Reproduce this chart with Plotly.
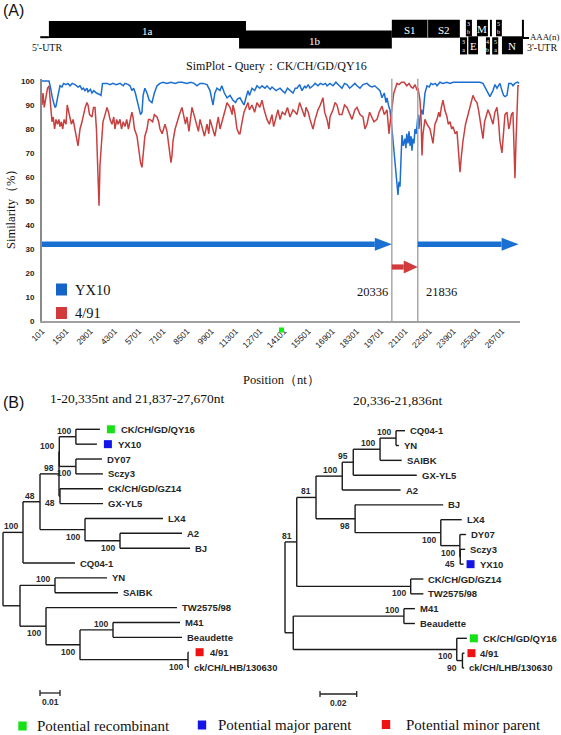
import plotly.graph_objects as go

W, H = 561, 735

# ---------------- DATA ----------------
# SimPlot (query CK/CH/GD/QY16), window positions (nt) and similarity (%)
yx10_pos = [101, 275, 506, 600, 700, 850, 911, 1000, 1142, 1258, 1350, 1489, 1600, 1721, 1850, 2010, 2184, 2300,
            2415, 2500, 2588, 2700, 2762, 2900, 2993, 3100, 3250, 3400, 3514, 3600, 3861, 4034, 4200, 4400, 4613,
            4800, 4902, 5100, 5191, 5300, 5400, 5500, 5600, 5700, 5800, 5885, 5950, 6050, 6174, 6300, 6463, 6600,
            6753, 6926, 7100, 7331, 7562, 7800, 8000, 8198, 8488, 8700, 8900, 9066, 9240, 9413, 9645, 9818, 9900,
            9992, 10100, 10223, 10397, 10500, 10650, 10802, 10975, 11148, 11300, 11400, 11553, 11700, 11784, 11900,
            12016, 12100, 12247, 12400, 12536, 12700, 12826, 13000, 13115, 13300, 13404, 13636, 13867, 14000, 14156,
            14300, 14445, 14619, 14750, 14850, 15000, 15140, 15300, 15371, 15500, 15602, 15776, 15900, 16065, 16200,
            16354, 16500, 16586, 16759, 16932, 17100, 17300, 17453, 17600, 17742, 17900, 18031, 18200, 18321, 18494,
            18668, 18899, 19050, 19188, 19350, 19477, 19651, 19767, 19900, 20000, 20056, 20171, 20229, 20345, 20450,
            20519, 20600, 20692, 20750, 20808, 20870, 20924, 21000, 21097, 21150, 21200, 21270, 21330, 21386, 21450,
            21500, 21560, 21620, 21676, 21750, 21849, 21900, 21965, 22050, 22139, 22254, 22370, 22500, 22600, 22717,
            22850, 22948, 23122, 23295, 23527, 23700, 23874, 24105, 24279, 24452, 24741, 25030, 25260, 25434, 25608,
            25750, 25897, 26012, 26186, 26300, 26417, 26591, 26706, 26800, 26880, 26996, 27100, 27250, 27343, 27458,
            27600, 27700]
yx10_sim = [100, 100, 100, 97, 93, 89, 89.5, 93, 98, 97.5, 99, 98.5, 99, 98, 99, 98.5, 97.5, 98,
            96.5, 97, 96, 97, 95.5, 96.5, 95, 96, 95, 94.5, 94, 99, 99, 98.5, 99, 98.5, 99,
            98, 99, 98.5, 98, 96, 97, 95, 92, 88, 86, 87, 94, 97, 95, 92, 91, 95,
            98, 99, 99.5, 99, 99.5, 99, 99.5, 99.5, 99, 99.5, 99, 98, 99, 99, 98.5, 96, 93,
            90, 95, 97, 96, 98, 95, 93, 94, 92, 91, 92.5, 93, 91, 90, 93,
            96, 94, 97, 96, 98, 97, 98, 97, 98, 96.5, 97.5, 96, 97, 96, 95,
            97, 96, 95, 97, 97, 98.5, 96, 98, 97, 98.5, 97, 98, 99, 98, 99,
            98.5, 99, 98, 99, 98, 99.5, 98, 97, 99, 98.5, 97, 98, 99, 98, 97,
            98.5, 99, 98, 97.5, 98, 97, 96, 93, 95, 91, 93, 89, 88, 80, 72,
            68, 60, 52.5, 58, 56, 68, 77.5, 73, 76, 72, 78, 74, 79, 73, 77,
            71, 76, 74, 80, 78, 86, 80, 85, 88, 86, 95, 98, 97.5, 99, 98.5,
            99, 98, 99.5, 99, 99.5, 99, 99.5, 99.5, 99.5, 99.5, 99.5, 99.5, 99.5, 99.5, 99,
            97, 95, 93.5, 96, 98.5, 97, 99, 96, 94, 93.5, 94, 99, 99, 98, 99,
            99.5, 99]

v491_pos = [101, 160, 230, 330, 420, 506, 560, 620, 679, 750, 830, 911, 1000, 1080, 1142, 1220, 1300, 1380, 1489,
            1560, 1650, 1721, 1800, 1900, 2010, 2100, 2184, 2250, 2300, 2415, 2500, 2600, 2700, 2762, 2850, 2993,
            3080, 3167, 3250, 3320, 3398, 3456, 3514, 3629, 3750, 3861, 3950, 4034, 4150, 4250, 4323, 4420, 4500,
            4613, 4700, 4800, 4902, 5000, 5100, 5191, 5300, 5364, 5450, 5596, 5700, 5800, 5885, 5950, 6050, 6174,
            6260, 6348, 6500, 6600, 6753, 6850, 6926, 7050, 7215, 7331, 7450, 7562, 7620, 7678, 7800, 7909, 8050,
            8198, 8300, 8400, 8488, 8600, 8777, 8900, 9066, 9150, 9240, 9413, 9500, 9645, 9750, 9818, 9992, 10100,
            10223, 10300, 10397, 10570, 10700, 10802, 10975, 11100, 11148, 11250, 11380, 11500, 11553, 11650, 11784,
            11900, 12016, 12100, 12247, 12400, 12536, 12700, 12826, 12950, 13115, 13250, 13404, 13500, 13636, 13750,
            13867, 14000, 14156, 14300, 14445, 14619, 14750, 14850, 15000, 15140, 15300, 15371, 15500, 15602, 15700,
            15776, 15900, 16065, 16200, 16354, 16450, 16586, 16700, 16759, 16932, 17050, 17164, 17300, 17453, 17600,
            17742, 17900, 18031, 18200, 18321, 18494, 18668, 18780, 18899, 19050, 19188, 19300, 19477, 19600, 19767,
            19900, 20056, 20171, 20229, 20345, 20450, 20519, 20634, 20750, 20900, 21050, 21200, 21330, 21450, 21560,
            21676, 21800, 21849, 21965, 22030, 22081, 22139, 22254, 22370, 22544, 22630, 22717, 22830, 22948, 23050,
            23122, 23200, 23295, 23400, 23527, 23600, 23700, 23800, 23874, 24000, 24105, 24200, 24279, 24350, 24452,
            24600, 24741, 24850, 25030, 25150, 25260, 25350, 25434, 25520, 25608, 25700, 25897, 26012, 26100, 26186,
            26300, 26417, 26500, 26591, 26706, 26800, 26880, 26996, 27100, 27169, 27250, 27343, 27400, 27458, 27520,
            27600, 27632, 27700]
v491_sim = [90, 95, 89, 93, 97, 98, 93, 88, 83, 85, 80, 84, 82, 84, 81, 83, 80, 84, 82,
            90, 87, 85, 82, 84, 79, 76, 73, 77, 80, 83, 86, 89, 91, 90, 86, 85,
            89, 89, 80, 60, 48, 65, 72, 83, 86, 89, 87, 84, 82, 85, 80, 84, 82,
            84, 80, 83, 81, 84, 80, 84, 87, 85, 80, 77, 70, 66, 64, 70, 77, 80,
            84, 84, 83, 86, 85, 83, 80, 78, 82, 79, 72, 66, 69, 75, 80, 83, 86,
            89, 85, 82, 85, 79, 89, 86, 82, 79, 84, 80, 77, 82, 78, 84, 80, 77,
            82, 85, 80, 84, 88, 91, 89, 86, 90, 87, 80, 78, 78, 82, 87,
            89, 91, 88, 90, 87, 91, 89, 92, 88, 84, 82, 86, 81, 85, 88,
            84, 87, 86, 89, 85, 88, 87, 86, 91, 88, 85, 89, 87, 84, 82,
            80, 84, 88, 90, 93, 87, 84, 80, 85, 88, 91, 90, 86, 86, 90,
            89, 86, 84, 88, 89, 86, 85, 80, 82, 87, 85, 83, 84, 87, 89.5,
            86, 88, 78, 82, 89, 95, 96.5, 99, 98.5, 99.5, 99.5, 98, 99, 97.5, 97,
            98.5, 96, 97, 92, 84, 69, 78, 84, 82, 80, 77, 74, 82, 84, 87,
            85, 89, 92, 88, 85, 82, 83, 80, 81, 78, 79, 70, 62, 68, 75,
            82, 86, 90, 94, 92, 91, 88, 84, 80, 76, 83, 88, 86, 84, 82,
            87, 89, 84, 75, 70, 78, 86, 87, 80, 82, 86, 87, 75, 59.5, 75,
            96, 98, 98]

x_tick_vals = [101, 1501, 2901, 4301, 5701, 7101, 8501, 9901, 11301, 12701, 14101, 15501, 16901, 18301,
               19701, 21101, 22501, 23901, 25301, 26701]
y_tick_vals = [0, 10, 20, 30, 40, 50, 60, 70, 80, 90, 100]
breakpoints = [20336, 21836]
genome_end = 27670
major_parent_segments = [(101, 20336), (21836, 27670)]
minor_parent_segments = [(20336, 21836)]
major_arrow_level = 32
minor_arrow_level = 22.5

# Genome organisation (schematic positions, nt on the SimPlot scale)
gene_names = ["1a", "1b", "S1", "S2", "3a", "3b", "E", "M", "4b", "4c", "5a", "5b", "N"]
gene_start = [500, 11500, 20336, 22420, 24280, 24620, 24760, 25260, 25780, 26012, 26140, 26360, 26706]
gene_end = [11900, 20336, 22400, 24270, 24690, 24970, 25320, 25896, 26010, 26126, 26490, 26700, 27920]
gene_row = ["A", "B", "T", "T", "b", "t", "b", "t", "b", "t", "b", "t", "b"]
gene_text = ["1a", "1b", "S1", "S2", "3<br>a", "3<br>b", "E", "M", "4<br>b", "", "5<br>a", "5<br>b", "N"]
utr5 = (0, 500)
utr3_end = 28270

# Neighbour-joining trees (branch lengths in substitutions/site, bootstrap as node labels)
tree_left = ("((((((CK/CH/GD/QY16:0.012,YX10:0.0105)100:0.0083,(DY07:0.013,Sczy3:0.0135)100:0.0083)100:0.00015,"
             "(CK/CH/GD/GZ14:0.0215,GX-YL5:0.0215)48:0.0005)98:0.0095,(LX4:0.039,(A2:0.031,BJ:0.035)100:0.0175)"
             "100:0.0225)48:0.0085,CQ04-1:0.026)100:0.01,((YN:0.026,SAIBK:0.0315)100:0.0175,(TW2575/98:0.0655,"
             "((M41:0.0335,Beaudette:0.0345)100:0.0165,(4/91:0.0003,ck/CH/LHB/130630:0.0005)100:0.054)100:0.017)"
             "100:0.013):0.0085);")
tree_right = ("(((((((CQ04-1:0.0049,YN:0.0016)100:0.0087,SAIBK:0.0118)100:0.0146,GX-YL5:0.0346)95:0.006,"
              "A2:0.0318)100:0.0143,(BJ:0.048,(LX4:0.0114,(DY07:0.0034,(Sczy3:0.0027,YX10:0.0018)45:0.0002)"
              "100:0.0104)100:0.0467)98:0.0213)81:0.0105,(CK/CH/GD/GZ14:0.0069,TW2575/98:0.0069)100:0.0621)"
              "81:0.0064,((M41:0.006,Beaudette:0.006)100:0.0603,(CK/CH/GD/QY16:0.0055,(4/91:0.0011,"
              "ck/CH/LHB/130630:0.0009)90:0.0031)100:0.0891):0.0045);")
scale_left = 0.01
scale_right = 0.02
marked = {"CK/CH/GD/QY16": "#16e016", "YX10": "#1414e6", "4/91": "#ee1212"}

# ---------------- STYLE / GEOMETRY ----------------
SERIF = "Liberation Serif, Times New Roman, serif"
SANS = "Liberation Sans, Arial, sans-serif"


def fx(px):
    return px / W


def fy(py):
    return 1 - py / H


def ptext(px, py, text, size, family=SERIF, xa="center", ya="middle", angle=0):
    return dict(x=fx(px), y=fy(py), xref="paper", yref="paper", text=text, showarrow=False,
                xanchor=xa, yanchor=ya, textangle=angle, font=dict(family=family, size=size, color="#111"))


P_X0, P_X1 = 42, 520          # simplot plot area (px)
P_YB, P_YT = 321, 78.6
XR = [101, 27750]
YR = [0, 101]
NT_PER_PX = (XR[1] - XR[0]) / (P_X1 - P_X0)

# tree geometry (px)
L_ROOT, L_LEAF0, L_STEP, L_UNIT = 3, 429.3, 14.86, 0.01 / 20
R_ROOT, R_LEAF0, R_STEP, R_UNIT = 285, 430.7, 14.83, 0.02 / 36.7

fig = go.Figure()
shapes = []
ann = []

# ---------------- SimPlot ----------------
fig.add_trace(go.Scatter(x=yx10_pos, y=yx10_sim, mode="lines", line=dict(color="#1c6fd0", width=1.5),
                         xaxis="x", yaxis="y", hoverinfo="skip"))
fig.add_trace(go.Scatter(x=v491_pos, y=v491_sim, mode="lines", line=dict(color="#c8403f", width=1.5),
                         xaxis="x", yaxis="y", hoverinfo="skip"))

for bp in breakpoints:
    shapes.append(dict(type="line", xref="x", yref="y", x0=bp, x1=bp, y0=0, y1=YR[1],
                       line=dict(color="#a8a8a8", width=1.5), layer="above"))


def arrow(s, e, level, color, head_len, head_half, shaft_half):
    shapes.append(dict(type="rect", xref="x", yref="y", x0=s, x1=e - head_len * NT_PER_PX,
                       ysizemode="pixel", yanchor=level, y0=-shaft_half, y1=shaft_half,
                       fillcolor=color, line=dict(width=0), layer="above"))
    shapes.append(dict(type="path", xref="x", yref="y", xsizemode="pixel", xanchor=e,
                       ysizemode="pixel", yanchor=level,
                       path=f"M{-head_len},{-head_half} L0,0 L{-head_len},{head_half} Z",
                       fillcolor=color, line=dict(width=0), layer="above"))


for s, e in major_parent_segments:
    arrow(s, e, major_arrow_level, "#1a6fd3", 17, 6.5, 2.8)
for s, e in minor_parent_segments:
    arrow(s, e, minor_arrow_level, "#d23b3b", 14, 6.5, 2.6)

ann.append(dict(x=breakpoints[0], y=12, xref="x", yref="y", text=str(breakpoints[0]), showarrow=False,
                xanchor="right", yanchor="middle", xshift=-2, font=dict(family=SERIF, size=12.5, color="#111")))
ann.append(dict(x=breakpoints[1], y=12, xref="x", yref="y", text=str(breakpoints[1]), showarrow=False,
                xanchor="left", yanchor="middle", xshift=6, font=dict(family=SERIF, size=12.5, color="#111")))

# legend of simplot
for (name, col, cy) in [("YX10", "#1565c8", 289.5), ("4/91", "#d13b3b", 313)]:
    shapes.append(dict(type="rect", xref="paper", yref="paper", x0=fx(56), x1=fx(67),
                       y0=fy(cy + 6), y1=fy(cy - 6), fillcolor=col, line=dict(width=0)))
    ann.append(ptext(73, cy, name, 14.5, xa="left"))

# small green artefact square near the axis
shapes.append(dict(type="rect", xref="paper", yref="paper", x0=fx(279), x1=fx(284), y0=fy(332.5),
                   y1=fy(327.5), fillcolor="#11ee11", line=dict(width=0)))

ann.append(ptext(276, 66, "SimPlot - Query：CK/CH/GD/QY16", 12))
ann.append(ptext(281, 380, "Position（nt）", 12.5))
ann.append(ptext(11, 206, "Similarity（%）", 12.5, angle=-90))
ann.append(ptext(1, 11, "(A)", 16, family=SANS, xa="left"))
ann.append(ptext(1, 402, "(B)", 16, family=SANS, xa="left"))

# ---------------- Genome diagram ----------------
row_y = {"A": (21, 38), "B": (30.6, 48.6), "T": (19.8, 37.8), "t": (19.8, 36.3), "b": (37.3, 54.5)}
row_y_big = {"E": (36.3, 54.3), "N": (36.3, 54.3)}
for n, s, e, r, t in zip(gene_names, gene_start, gene_end, gene_row, gene_text):
    y0, y1 = row_y_big.get(n, row_y[r])
    shapes.append(dict(type="rect", xref="x2", yref="y2", x0=s, x1=e, y0=y0, y1=y1,
                       fillcolor="#000", line=dict(width=0)))
    if t:
        small = "<br>" in t
        ann.append(dict(x=(s + e) / 2, y=(y0 + y1) / 2 + (0 if small else 1), xref="x2", yref="y2", text=t,
                        showarrow=False, xanchor="center", yanchor="middle",
                        font=dict(family=SERIF, size=6 if small else 11, color="#fff")))
# S1/S2 separator
shapes.append(dict(type="line", xref="x2", yref="y2", x0=22410, x1=22410, y0=19.8, y1=37.8,
                   line=dict(color="#888", width=1)))
shapes.append(dict(type="line", xref="x2", yref="y2", x0=utr5[0], x1=utr5[1], y0=37.2, y1=37.2,
                   line=dict(color="#000", width=2)))
shapes.append(dict(type="line", xref="x2", yref="y2", x0=gene_end[-1], x1=gene_end[-1], y0=19.8, y1=38,
                   line=dict(color="#000", width=2)))
shapes.append(dict(type="line", xref="x2", yref="y2", x0=gene_end[-1], x1=utr3_end, y0=38, y1=38,
                   line=dict(color="#000", width=2)))
ann.append(ptext(30, 47, "5'-UTR", 10, xa="left"))
ann.append(ptext(525, 47, "3'-UTR", 10, xa="left"))
ann.append(ptext(528, 37, "AAA(n)", 8.8, xa="left"))


# ---------------- Trees ----------------
def parse_newick(s):
    s = s.strip().rstrip(";")
    pos = 0

    def node():
        nonlocal pos
        nd = {"children": [], "name": "", "len": 0.0, "support": None}
        if s[pos] == "(":
            pos += 1
            while True:
                nd["children"].append(node())
                if s[pos] == ",":
                    pos += 1
                    continue
                pos += 1
                break
        st = pos
        while pos < len(s) and s[pos] not in ":,()":
            pos += 1
        lab = s[st:pos]
        if nd["children"]:
            nd["support"] = lab or None
        else:
            nd["name"] = lab
        if pos < len(s) and s[pos] == ":":
            pos += 1
            st = pos
            while pos < len(s) and s[pos] not in ",()":
                pos += 1
            nd["len"] = float(s[st:pos])
        return nd

    return node()


def draw_tree(newick, xa, ya, sq_off, txt_off):
    root = parse_newick(newick)
    leaves = []
    internals = []

    def rec(nd, x, parent, idx):
        nd["x"], nd["parent"], nd["idx"] = x, parent, idx
        if not nd["children"]:
            nd["y"] = len(leaves)
            leaves.append(nd)
        else:
            for i, c in enumerate(nd["children"]):
                rec(c, x + c["len"], nd, i)
            nd["y"] = (nd["children"][0]["y"] + nd["children"][-1]["y"]) / 2
            internals.append(nd)

    rec(root, 0.0, None, 0)
    xs, ys = [], []
    for nd in leaves + internals:
        if nd["parent"] is not None:
            xs += [nd["parent"]["x"], nd["x"], None]
            ys += [nd["y"], nd["y"], None]
    for nd in internals:
        xs += [nd["x"], nd["x"], None]
        ys += [nd["children"][0]["y"], nd["children"][-1]["y"], None]
    fig.add_trace(go.Scatter(x=xs, y=ys, mode="lines", line=dict(color="#1a1a1a", width=1.4),
                             xaxis=xa, yaxis=ya, hoverinfo="skip"))
    for nd in internals:
        if nd["parent"] is not None and nd["support"]:
            upper = nd["idx"] == 0
            ann.append(dict(x=nd["x"], y=nd["y"], xref=xa, yref=ya, text=nd["support"], showarrow=False,
                            xanchor="right", yanchor="middle", xshift=-3, yshift=6 if upper else -7,
                            font=dict(family=SANS, size=8.5, color="#2a2a2a", weight="bold")))
    for lf in leaves:
        off = 3
        if lf["name"] in marked:
            shapes.append(dict(type="rect", xref=xa, yref=ya, xsizemode="pixel", xanchor=lf["x"],
                               x0=sq_off[0], x1=sq_off[1], ysizemode="pixel", yanchor=lf["y"], y0=-4, y1=4,
                               fillcolor=marked[lf["name"]], line=dict(width=0)))
            off = txt_off
        ann.append(dict(x=lf["x"], y=lf["y"], xref=xa, yref=ya, text=lf["name"], showarrow=False,
                        xanchor="left", yanchor="middle", xshift=off,
                        font=dict(family=SANS, size=9.5, color="#262626", weight="bold")))


draw_tree(tree_left, "x3", "y3", (7, 15), 19)
draw_tree(tree_right, "x4", "y4", (3, 11), 14)


def scale_bar(xa, ya, x_start, yv, length, label):
    shapes.append(dict(type="line", xref=xa, yref=ya, x0=x_start, x1=x_start + length, y0=yv, y1=yv,
                       line=dict(color="#222", width=1.3)))
    for xx in (x_start, x_start + length):
        shapes.append(dict(type="line", xref=xa, yref=ya, xsizemode="pixel", xanchor=xx, x0=0, x1=0,
                           ysizemode="pixel", yanchor=yv, y0=-3, y1=3, line=dict(color="#222", width=1.3)))
    ann.append(dict(x=x_start + length / 2, y=yv, xref=xa, yref=ya, text=label, showarrow=False,
                    xanchor="center", yanchor="middle", yshift=-9,
                    font=dict(family=SANS, size=8.5, color="#2a2a2a", weight="bold")))


scale_bar("x3", "y3", (40 - L_ROOT) * L_UNIT, (693 - L_LEAF0) / L_STEP, scale_left, str(scale_left))
scale_bar("x4", "y4", (320 - R_ROOT) * R_UNIT, (694 - R_LEAF0) / R_STEP, scale_right, str(scale_right))

ann.append(ptext(48, 399, "1-20,335nt and 21,837-27,670nt", 13.5, xa="left"))
ann.append(ptext(397, 400, "20,336-21,836nt", 13.5))

# bottom legend
for (lab, col, sx, tx, cy) in [("Potential recombinant", "#16e016", 22.5, 35, 726),
                                ("Potential major parent", "#1414e6", 202, 216, 725),
                                ("Potential minor parent", "#ee1212", 386, 404, 724.5)]:
    shapes.append(dict(type="rect", xref="paper", yref="paper", x0=fx(sx - 4.2), x1=fx(sx + 4.2),
                       y0=fy(cy + 4.5), y1=fy(cy - 4.5), fillcolor=col, line=dict(width=0)))
    ann.append(ptext(tx, cy, lab, 15, xa="left"))

# ---------------- Axes ----------------
hidden = dict(visible=False, showgrid=False, zeroline=False, automargin=False)
fig.update_layout(
    width=W, height=H, margin=dict(l=0, r=0, t=0, b=0), template="none", showlegend=False,
    paper_bgcolor="white", plot_bgcolor="rgba(0,0,0,0)",
    xaxis=dict(domain=[fx(P_X0), fx(P_X1)], range=XR, anchor="y", showgrid=False, zeroline=False,
               showline=True, linecolor="#a0a0a0", linewidth=2, ticks="", tickvals=x_tick_vals,
               ticktext=[str(v) for v in x_tick_vals], tickangle=-45, automargin=False,
               tickfont=dict(family=SANS, size=8.5, color="#222")),
    yaxis=dict(domain=[fy(P_YB), fy(P_YT)], range=YR, anchor="x", showgrid=False, zeroline=False,
               showline=True, linecolor="#8a8a8a", linewidth=2, ticks="", tickvals=y_tick_vals,
               automargin=False, ticklabelstandoff=4,
               tickfont=dict(family=SANS, size=8, color="#222", weight="bold")),
    xaxis2=dict(domain=[0, 1], anchor="y2",
                range=[XR[0] - P_X0 * NT_PER_PX, XR[0] + (W - P_X0) * NT_PER_PX], **hidden),
    yaxis2=dict(domain=[0, 1], anchor="x2", range=[H, 0], **hidden),
    xaxis3=dict(domain=[0, 1], anchor="y3", range=[-L_ROOT * L_UNIT, (W - L_ROOT) * L_UNIT], **hidden),
    yaxis3=dict(domain=[0, 1], anchor="x3", range=[(H - L_LEAF0) / L_STEP, -L_LEAF0 / L_STEP], **hidden),
    xaxis4=dict(domain=[0, 1], anchor="y4", range=[-R_ROOT * R_UNIT, (W - R_ROOT) * R_UNIT], **hidden),
    yaxis4=dict(domain=[0, 1], anchor="x4", range=[(H - R_LEAF0) / R_STEP, -R_LEAF0 / R_STEP], **hidden),
    shapes=shapes, annotations=ann,
)

fig.write_html("out.html", config={"displayModeBar": False, "staticPlot": True},
               post_script="document.body.style.margin='0';document.body.style.overflow='hidden';")
